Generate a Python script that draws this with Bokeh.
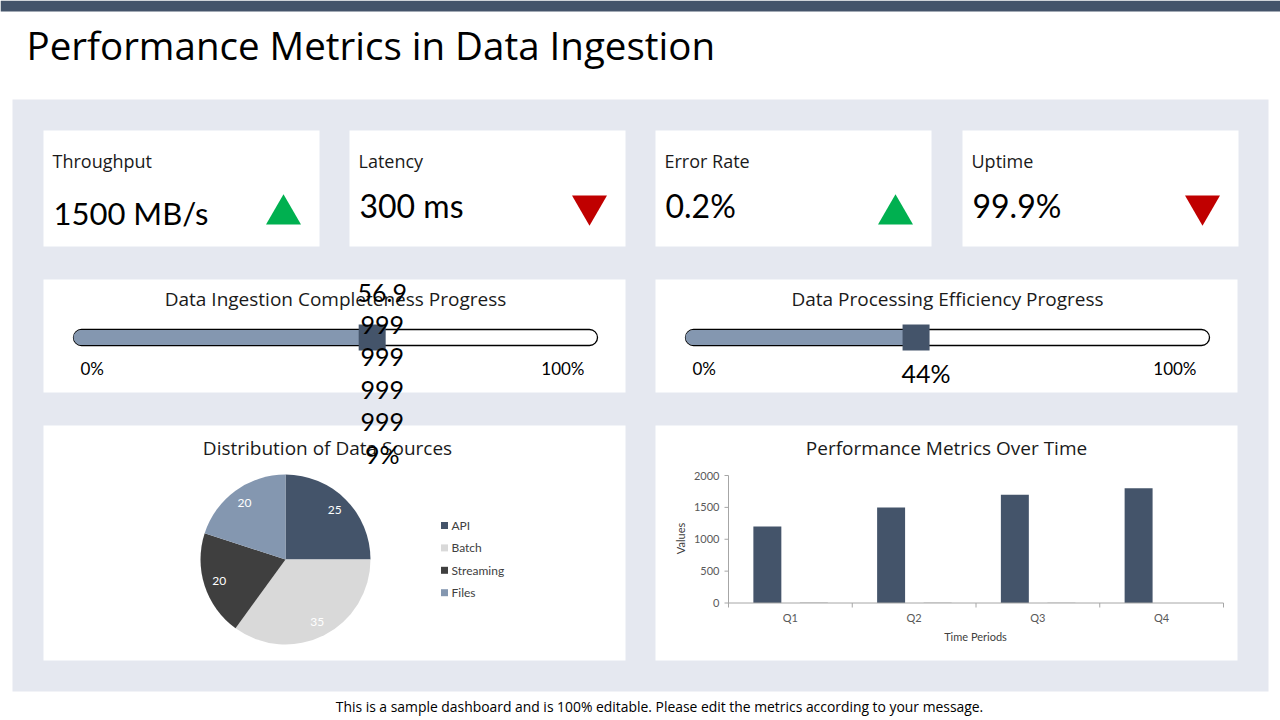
import math

from bokeh.core.properties import value
from bokeh.embed import file_html
from bokeh.models import BoxAnnotation, Range1d
from bokeh.plotting import figure
from bokeh.resources import INLINE

# ---------------- data ----------------
kpi_names = ["Throughput", "Latency", "Error Rate", "Uptime"]
kpi_values = ["1500 MB/s", "300 ms", "0.2%", "99.9%"]
kpi_trends = ["up", "down", "up", "down"]

progress_titles = ["Data Ingestion Completeness Progress",
                   "Data Processing Efficiency Progress"]
progress_values = [56.99999999999999, 44]

source_names = ["API", "Batch", "Streaming", "Files"]
source_shares = [25, 35, 20, 20]

periods = ["Q1", "Q2", "Q3", "Q4"]
metric_primary = [1200, 1500, 1700, 1800]
metric_secondary = [15, 12, 10, 0]
value_ticks = [0, 500, 1000, 1500, 2000]

# ---------------- styling ----------------
W, H = 1280, 720
FONT = "Lato"
HEAD_FONT = "Open Sans"
SLATE = "#44546A"
SLATE_LIGHT = "#8497B0"
PANEL = "#E5E8F0"
GREEN = "#00B050"
RED = "#C00000"
SOURCE_COLORS = [SLATE, "#D9D9D9", "#3F3F3F", SLATE_LIGHT]
AXIS_GREY = "#A6A6A6"
TICK_TEXT = "#595959"


def pixel_range(p0, p1, v0, v1, size):
    """Range over a frame of `size` px in which pixel p0 shows v0 and p1 shows v1."""
    k = (v1 - v0) / (p1 - p0)
    return Range1d(start=v0 - p0 * k, end=v0 + (size - p0) * k)


p = figure(width=W, height=H, x_range=Range1d(0, W), y_range=Range1d(H, 0),
           output_backend="svg", toolbar_location=None, min_border=0,
           x_axis_type=None, y_axis_type=None, outline_line_color=None,
           background_fill_color="white", border_fill_color="white")
p.grid.visible = False

# card geometry (page pixels, measured from top-left)
KPI_LEFT = [43, 349, 655, 962]
KPI_W, KPI_TOP, KPI_BOTTOM = 276, 130, 246
WIDE_LEFT = [43, 655]
WIDE_W = 582
PROG_TOP, PROG_BOTTOM = 279, 392
LOW_TOP, LOW_BOTTOM = 425, 660
TRACK_INSET, TRACK_W = 30, 524
TRACK_Y, TRACK_H = 337, 16

# scales for the embedded charts
p.extra_x_ranges = {
    "prog0": pixel_range(WIDE_LEFT[0] + TRACK_INSET, WIDE_LEFT[0] + TRACK_INSET + TRACK_W, 0, 100, W),
    "prog1": pixel_range(WIDE_LEFT[1] + TRACK_INSET, WIDE_LEFT[1] + TRACK_INSET + TRACK_W, 0, 100, W),
    "pie_x": pixel_range(285, 370, 0, 1, W),
    "bar_x": pixel_range(728, 1223, 0.5, len(periods) + 0.5, W),
}
p.extra_y_ranges = {
    "pie_y": pixel_range(H - 559, H - 474, 0, 1, H),
    "bar_y": pixel_range(H - 602.5, H - 475, 0, 2000, H),
}


def label(x, y, txt, size, color="#000000", align="left", baseline="middle", font=FONT, **kw):
    return p.text(x=[x], y=[y], text=[txt], text_font=value(font),
                  text_font_size=f"{size}px", text_color=color,
                  text_align=align, text_baseline=baseline, **kw)


# ---------------- page frame ----------------
p.quad(left=[0], right=[W], top=[0], bottom=[11], fill_color=SLATE, line_color=None)
p.quad(left=[12], right=[1268], top=[99], bottom=[691], fill_color=PANEL, line_color=None)
label(26, 44, "Performance Metrics in Data Ingestion", 38.5, font=HEAD_FONT)
label(W / 2 + 19, 706, "This is a sample dashboard and is 100% editable. Please edit the metrics "
      "according to your message.", 13.9, align="center", font=HEAD_FONT)

# cards
cards_l, cards_r, cards_t, cards_b = [], [], [], []
for x0 in KPI_LEFT:
    cards_l.append(x0); cards_r.append(x0 + KPI_W); cards_t.append(KPI_TOP); cards_b.append(KPI_BOTTOM)
for x0 in WIDE_LEFT:
    for t, b in ((PROG_TOP, PROG_BOTTOM), (LOW_TOP, LOW_BOTTOM)):
        cards_l.append(x0); cards_r.append(x0 + WIDE_W); cards_t.append(t); cards_b.append(b)
p.quad(left=cards_l, right=cards_r, top=cards_t, bottom=cards_b, fill_color="white", line_color=None)

# ---------------- KPI tiles ----------------
for i, (name, val, trend) in enumerate(zip(kpi_names, kpi_values, kpi_trends)):
    x0 = KPI_LEFT[i]
    label(x0 + 9, 160, name, 18, color="#1a1a1a", font=HEAD_FONT)
    big = i == 0
    label(x0 + 10, 212 if big else 205, val, 31 if big else 32)
    up = trend == "up"
    p.scatter(x=[x0 + 240], y=[214 if up else 205],
              marker="triangle" if up else "inverted_triangle",
              size=35, fill_color=GREEN if up else RED, line_color=None)


# ---------------- progress bars ----------------
def wrap_narrow(s, limit=3.5):
    """Break a label into lines that fit a narrow box (digits ~1 unit, '.' ~0.5)."""
    lines, cur, used = [], "", 0.0
    for ch in s:
        w = 0.5 if ch == "." else 1.0
        if cur and used + w > limit:
            lines.append(cur)
            cur, used = "", 0.0
        cur += ch
        used += w
    if cur:
        lines.append(cur)
    return "\n".join(lines)


for i, (title, pct) in enumerate(zip(progress_titles, progress_values)):
    x0 = WIDE_LEFT[i]
    rng = f"prog{i}"
    label(x0 + WIDE_W / 2 + 1, 298, title, 19, color="#1a1a1a", align="center", font=HEAD_FONT)
    track = BoxAnnotation(left=0, right=100, top=TRACK_Y - TRACK_H / 2, bottom=TRACK_Y + TRACK_H / 2,
                          x_range_name=rng, fill_color="white", fill_alpha=1,
                          line_color="black", line_width=1.3, line_alpha=1, border_radius=8)
    fill = BoxAnnotation(left=0, right=pct, top=TRACK_Y - TRACK_H / 2 + 0.5,
                         bottom=TRACK_Y + TRACK_H / 2 - 0.5,
                         x_range_name=rng, fill_color=SLATE_LIGHT, fill_alpha=1,
                         line_color=None, border_radius=8)
    p.add_layout(track)
    p.add_layout(fill)
    p.rect(x=[pct], y=[TRACK_Y], width=27, height=26, width_units="screen", height_units="screen",
           fill_color=SLATE, line_color=None, x_range_name=rng, level="overlay")
    p.text(x=[0], y=[368], text=["0%"], x_offset=7, x_range_name=rng, text_font=value(FONT),
           text_font_size="17px", text_align="left", text_baseline="middle", level="overlay")
    p.text(x=[100], y=[368], text=["100%"], x_offset=-13, x_range_name=rng, text_font=value(FONT),
           text_font_size="17px", text_align="right", text_baseline="middle", level="overlay")
    p.text(x=[pct], y=[372], text=[wrap_narrow(f"{pct}%")], x_offset=10, x_range_name=rng,
           text_font=value(FONT), text_font_size="25px", text_align="center",
           text_baseline="middle", text_line_height=1.08, level="overlay")

# ---------------- pie: distribution of data sources ----------------
label(WIDE_LEFT[0] + WIDE_W / 2 - 7, 447, "Distribution of Data Sources", 19, color="#1a1a1a",
      align="center", font=HEAD_FONT)
total = sum(source_shares)
starts, ends, mids = [], [], []
acc = 0
for s in source_shares:
    a0 = math.pi / 2 - 2 * math.pi * acc / total
    acc += s
    a1 = math.pi / 2 - 2 * math.pi * acc / total
    starts.append(a0); ends.append(a1); mids.append((a0 + a1) / 2)
p.wedge(x=0, y=0, radius=1, start_angle=starts, end_angle=ends, direction="clock",
        fill_color=SOURCE_COLORS, line_color=None, x_range_name="pie_x", y_range_name="pie_y")
p.text(x=[0.82 * math.cos(m) for m in mids], y=[0.82 * math.sin(m) for m in mids],
       text=[str(s) for s in source_shares], x_range_name="pie_x", y_range_name="pie_y",
       text_font=value(FONT), text_font_size="12px", text_color="white",
       text_align="center", text_baseline="middle")
for i, name in enumerate(source_names):
    ly = 525 + i * 22.4
    p.scatter(x=[444], y=[ly], marker="square", size=7, fill_color=SOURCE_COLORS[i], line_color=None)
    label(451, ly, name, 12, color="#404040")

# ---------------- bars: performance metrics over time ----------------
label(WIDE_LEFT[1] + WIDE_W / 2, 447, "Performance Metrics Over Time", 19, color="#1a1a1a",
      align="center", font=HEAD_FONT)
cats = [i + 1 for i in range(len(periods))]
p.vbar(x=[c - 0.186 for c in cats], top=metric_primary, bottom=0, width=0.226,
       fill_color=SLATE, line_color=None, x_range_name="bar_x", y_range_name="bar_y")
p.vbar(x=[c + 0.19 for c in cats], top=metric_secondary, bottom=0, width=0.226,
       fill_color="#D9D9D9", line_color=None, x_range_name="bar_x", y_range_name="bar_y")
# axis lines
p.segment(x0=[0.5, 0.5], y0=[0, 0], x1=[len(periods) + 0.5, 0.5], y1=[0, 2000],
          line_color=AXIS_GREY, line_width=1, x_range_name="bar_x", y_range_name="bar_y")
# category separators below the x axis
bounds = [c - 0.5 for c in cats] + [len(periods) + 0.5]
p.segment(x0=bounds, y0=[602.5] * len(bounds), x1=bounds, y1=[607] * len(bounds),
          line_color=AXIS_GREY, line_width=1, x_range_name="bar_x")
# y ticks
p.segment(x0=[724] * len(value_ticks), y0=value_ticks, x1=[728] * len(value_ticks), y1=value_ticks,
          line_color=AXIS_GREY, line_width=1, y_range_name="bar_y")
p.text(x=[0.5] * len(value_ticks), y=value_ticks, text=[str(v) for v in value_ticks],
       x_offset=-9, x_range_name="bar_x", y_range_name="bar_y", text_font=value(FONT),
       text_font_size="11px", text_color=TICK_TEXT, text_align="right", text_baseline="middle")
p.text(x=cats, y=[617] * len(cats), text=periods, x_range_name="bar_x", text_font=value(FONT),
       text_font_size="11px", text_color=TICK_TEXT, text_align="center", text_baseline="middle")
label(975, 636, "Time Periods", 11, color="#404040", align="center")
label(680, 538, "Values", 11, color="#404040", align="center", angle=math.pi / 2)

open("out.html", "w").write(file_html(p, INLINE))
